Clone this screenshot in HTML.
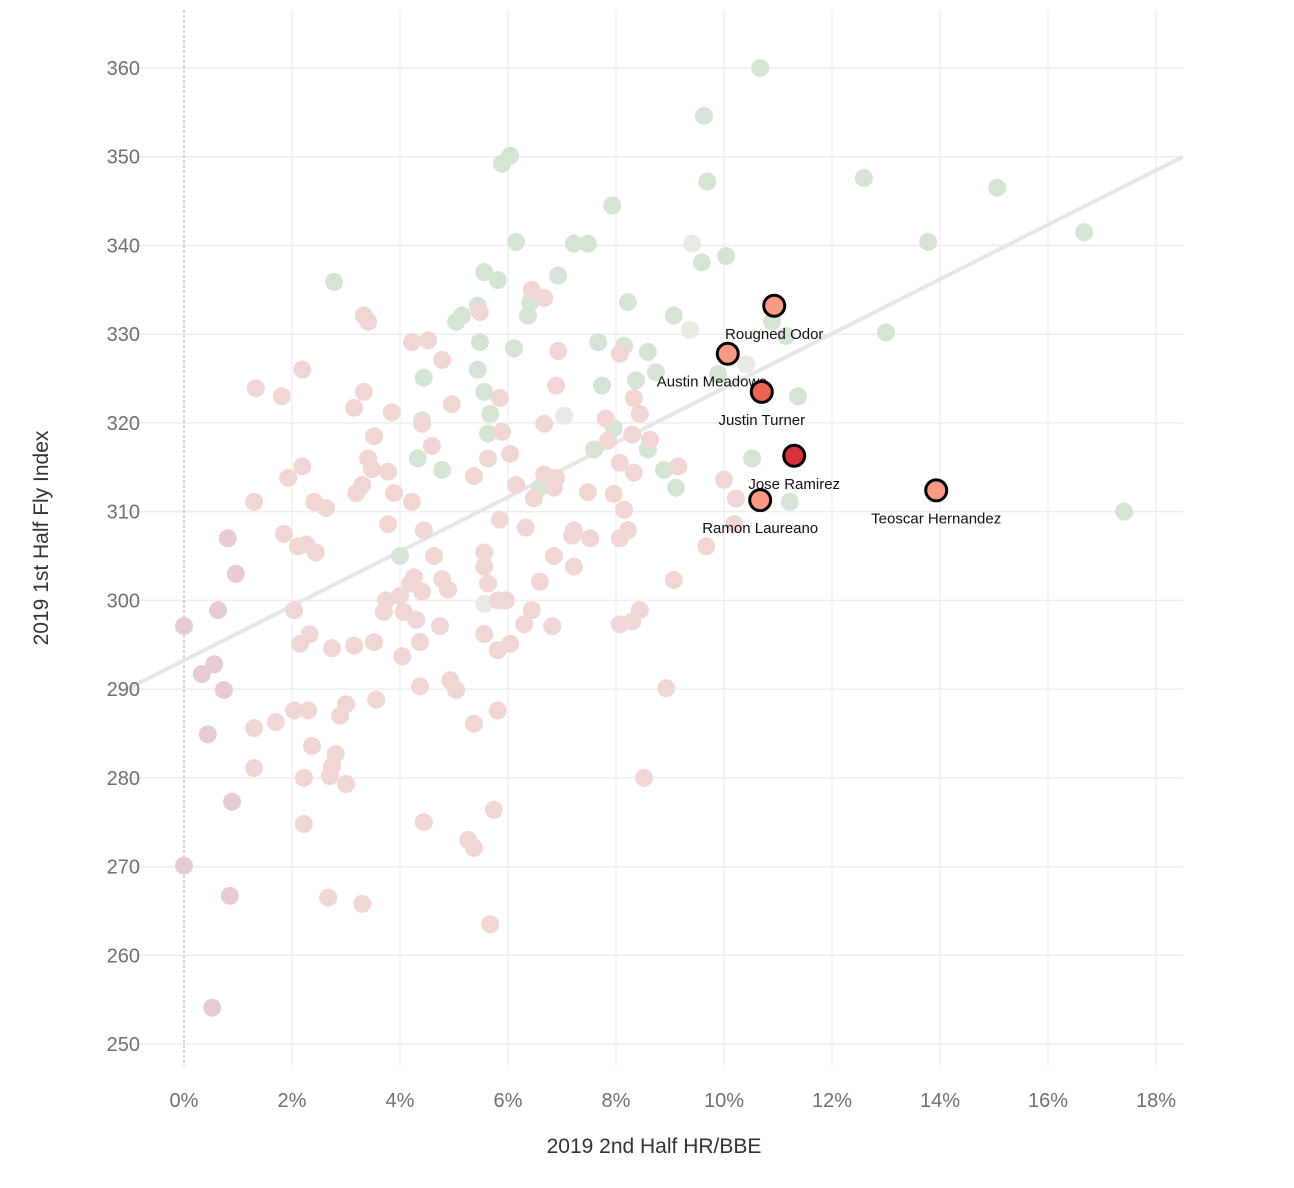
<!DOCTYPE html>
<html><head><meta charset="utf-8"><style>
html,body{margin:0;padding:0;background:#fff;}
svg{display:block;font-family:"Liberation Sans","DejaVu Sans",sans-serif;}
</style></head><body>
<svg id="chart" width="1294" height="1188"></svg>
<script>
const xs=[10.67,9.63,9.69,12.59,15.06,16.67,13.78,7.93,6.04,5.89,6.15,7.22,7.48,9.59,10.04,6.93,5.81,5.56,2.78,8.22,5.44,6.41,6.37,5.15,5.04,9.07,5.48,6.11,7.67,8.15,8.59,11.15,13.0,10.89,4.44,5.44,5.56,7.74,8.37,9.89,8.74,4.41,5.67,5.63,7.96,7.59,8.59,4.33,4.78,10.52,8.89,9.11,11.22,11.37,17.41,4.0,5.56,6.59,
9.41,9.37,6.44,6.67,5.48,3.33,3.41,4.22,4.52,4.78,6.93,8.07,10.41,2.19,1.33,1.81,3.33,5.85,6.89,8.33,4.96,3.15,3.85,8.44,7.81,7.04,4.41,6.67,3.52,5.89,8.30,7.85,8.63,4.59,6.04,5.63,3.41,8.07,3.48,3.78,2.19,8.33,9.15,5.37,6.67,6.89,1.93,10.0,6.15,3.30,3.19,7.48,7.96,6.85,3.89,6.48,4.22,2.41,1.30,10.22,8.15,2.63,5.85,3.78,6.33,8.22,10.19,4.44,7.22,1.85,0.81,7.52,8.07,7.19,2.26,2.11,2.44,9.67,5.56,4.63,6.85,5.56,7.22,0.96,4.26,4.78,6.59,5.63,9.07,4.19,4.89,4.41,4.0,3.74,5.81,5.96,2.04,0.63,3.70,4.07,6.44,8.44,4.30,6.30,4.74,6.82,8.07,8.30,0,2.33,5.56,3.52,4.37,2.15,6.04,2.74,3.15,5.81,4.04,0.56,0.33,4.93,0.74,4.37,5.04,8.93,3.56,3.0,2.04,2.30,5.81,2.89,1.70,1.30,5.37,0.44,2.37,2.81,2.74,1.30,2.70,2.22,3.0,8.52,0.89,5.74,4.44,2.22,5.26,5.37,0,0.85,2.67,3.30,5.67,0.52];
const ys=[360,354.6,347.2,347.6,346.5,341.5,340.4,344.5,350.1,349.2,340.4,340.2,340.2,338.1,338.8,336.6,336.1,337.0,335.9,333.6,333.2,333.6,332.1,332.1,331.4,332.1,329.1,328.4,329.1,328.7,328.0,329.8,330.2,331.4,325.1,326.0,323.5,324.2,324.8,325.5,325.7,320.3,321.0,318.8,319.4,317.0,317.0,316.0,314.7,316.0,314.7,312.7,311.1,323.0,310.0,305.0,299.6,312.7,
340.2,330.5,335.0,334.1,332.5,332.1,331.4,329.1,329.3,327.1,328.1,327.8,326.6,326.0,323.9,323.0,323.5,322.8,324.2,322.8,322.1,321.7,321.2,321.0,320.5,320.8,319.9,319.9,318.5,319.0,318.7,318.0,318.1,317.4,316.5,316.0,316.0,315.5,314.8,314.5,315.1,314.4,315.1,314.0,314.2,313.8,313.8,313.6,313.0,313.0,312.1,312.2,312.0,312.7,312.1,311.5,311.1,311.1,311.1,311.5,310.2,310.4,309.1,308.6,308.2,307.9,308.6,307.9,307.9,307.5,307.0,307.0,307.0,307.3,306.3,306.1,305.4,306.1,305.4,305.0,305.0,303.8,303.8,303.0,302.6,302.4,302.1,301.9,302.3,301.9,301.2,301.0,300.5,300.0,300.0,300.0,298.9,298.9,298.7,298.7,298.9,298.9,297.8,297.3,297.1,297.1,297.3,297.6,297.1,296.2,296.2,295.3,295.3,295.1,295.1,294.6,294.9,294.4,293.7,292.8,291.7,291.0,289.9,290.3,289.9,290.1,288.8,288.3,287.6,287.6,287.6,287.0,286.3,285.6,286.1,284.9,283.6,282.7,281.3,281.1,280.2,280.0,279.3,280.0,277.3,276.4,275.0,274.8,273.0,272.1,270.1,266.7,266.5,265.8,263.5,254.1];
const greenCount=58;
const whiteIdx=[58,83,56,70,59];
const hlNames=["Rougned Odor","Austin Meadows","Justin Turner","Jose Ramirez","Ramon Laureano","Teoscar Hernandez"];
const hlX=[10.93,10.07,10.70,11.30,10.67,13.93];
const hlY=[333.2,327.8,323.5,316.3,311.3,312.4];
const hlColor=["#f89a84","#f89a84","#ee6452","#d8323d","#f89a84","#f89a84"];
const xTicks=[0,2,4,6,8,10,12,14,16,18];
const yTicks=[250,260,270,280,290,300,310,320,330,340,350,360];
const trendX=[-1.056,18.5];
const trendY=[290.0,350.0];

const NS="http://www.w3.org/2000/svg";
const svg=document.getElementById('chart');
const L=127,R=1183,T=10,B=1066;
const sx=v=>184+v*54;
const sy=v=>68+(360-v)*8.873;
function el(tag,attrs,parent){const e=document.createElementNS(NS,tag);for(const k in attrs)e.setAttribute(k,attrs[k]);(parent||svg).appendChild(e);return e;}

const grid=el('g',{});


yTicks.forEach(t=>{
  const l=el('line',{x1:L,x2:R,y1:sy(t),y2:sy(t),stroke:'#ededed','stroke-width':1.5},grid);
  
  
});
xTicks.forEach(t=>{
  if(t!==0){const l=el('line',{x1:sx(t),x2:sx(t),y1:T,y2:B,stroke:'#f0f0f0','stroke-width':1.5},grid);
  
  }
  const tx=el('text',{x:sx(t),y:1107,'text-anchor':'middle','font-size':20,fill:'#707070'});
  tx.textContent=t+'%';
  
  
});
const zl=el('line',{x1:sx(0),x2:sx(0),y1:T,y2:B,stroke:'#aaa','stroke-width':1,'stroke-dasharray':'3,2'});


const tl=el('line',{x1:sx(trendX[0]),y1:sy(trendY[0]),x2:sx(trendX[1]),y2:sy(trendY[1]),stroke:'#e6e6e6','stroke-width':4});


yTicks.forEach(t=>{
  const tx=el('text',{x:140,y:sy(t)+7,'text-anchor':'end','font-size':20,fill:'#707070'});
  tx.textContent=t;
  
  
});

function col(i){
  if(whiteIdx.includes(i))return '#ebe9e4';
  if(i<greenCount)return '#d6e4d6';
  const x=xs[i];
  if(x<1.2)return '#e7cdd3';
  return '#f0d6d5';
}
const pts=el('g',{});


xs.forEach((x,i)=>{
  const c=el('circle',{cx:sx(x),cy:sy(ys[i]),r:9,fill:col(i)},pts);
  
  
});
hlX.forEach((x,i)=>{
  const c=el('circle',{cx:sx(x),cy:sy(hlY[i]),r:10.5,fill:hlColor[i],stroke:'#000','stroke-width':3});
  
  
  const t=el('text',{x:sx(x)-(i===1?16:0),y:sy(hlY[i])+33,'text-anchor':'middle','font-size':15,fill:'#111'});
  t.textContent=hlNames[i];
  
  
});
const xt=el('text',{x:654,y:1153,'text-anchor':'middle','font-size':21,fill:'#333'});
xt.textContent='2019 2nd Half HR/BBE';


const yt=el('text',{x:48,y:538,'text-anchor':'middle','font-size':21,fill:'#333',transform:'rotate(-90 48 538)'});
yt.textContent='2019 1st Half Fly Index';


</script>
</body></html>
